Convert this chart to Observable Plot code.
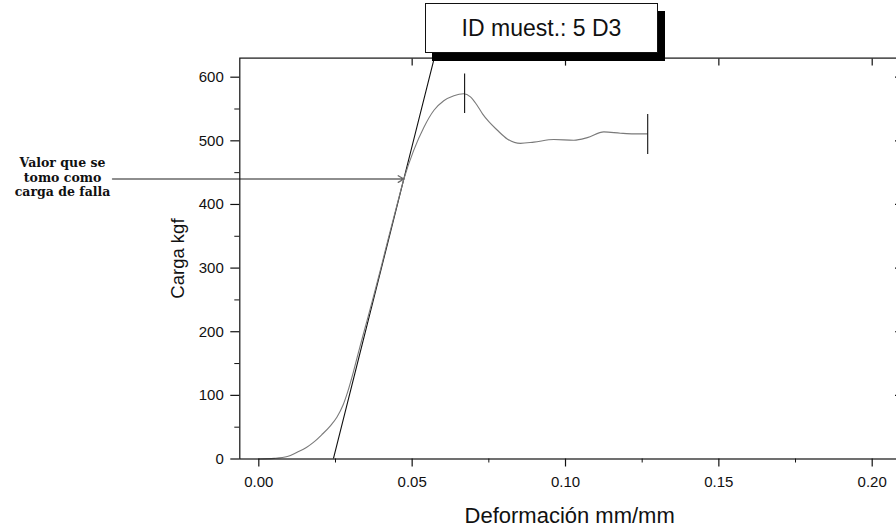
<!DOCTYPE html>
<html>
<head>
<meta charset="utf-8">
<script src="https://cdn.jsdelivr.net/npm/d3@7"></script>
<script src="https://cdn.jsdelivr.net/npm/@observablehq/plot@0.6"></script>
<style>
  html, body { margin: 0; padding: 0; background: #fff; overflow: hidden; }
  #wrap { position: relative; width: 896px; height: 527px; overflow: hidden; }
  #wrap svg { max-width: none !important; }
  #title {
    position: absolute; left: 425px; top: 3px; width: 231px; height: 48px;
    border: 1px solid #111; background: #fff; box-shadow: 7px 8px 0 #000;
    font-family: "Liberation Sans", Arial, sans-serif; font-size: 23px; color: #111;
    display: flex; align-items: center; justify-content: center; z-index: 2;
  }
</style>
</head>
<body>
<div id="wrap"><div id="title">ID muest.: 5 D3</div></div>
<script>
// Load–deformation curve
const strain = [0, 0.005, 0.0093, 0.0125, 0.0155, 0.0179, 0.0205, 0.0234, 0.0255, 0.0274, 0.0290, 0.0309, 0.0329, 0.0343, 0.0371, 0.0398, 0.0424, 0.0451, 0.0473, 0.0505, 0.0538, 0.0571, 0.0603, 0.0636, 0.0668, 0.0690, 0.0710, 0.0730, 0.0750, 0.0777, 0.0810, 0.0853, 0.0897, 0.0962, 0.1027, 0.1071, 0.1125, 0.1179, 0.1223, 0.1266];
const load   = [0, 1, 3.9, 10.7, 18, 26.4, 38, 52.6, 66, 84, 106, 138, 175, 200, 250, 300, 350, 400, 440, 485, 521, 548, 563, 571, 574, 569, 557, 542, 530, 517, 503, 496, 498, 502, 501, 505, 514, 512, 511, 511];

// Tangent (elastic) line
const tangentStrain = [0.0243, 0.0572];
const tangentLoad   = [0, 630];

// Vertical markers (peak and end of test)
const markerStrain = [0.0671, 0.1268];
const markerLow    = [543, 478.5];
const markerHigh   = [605, 541.5];

// Annotation
const annotationLines = ["Valor que se", "tomo como", "carga de falla"];
const failureLoad = 440;
const arrowFromStrain = -0.0477;
const arrowToStrain = 0.0473;
const annotationStrain = -0.064;

// Ticks
const xTicks = [0, 0.05, 0.10, 0.15, 0.20];
const xMinorTicks = [0.025, 0.075, 0.125, 0.175];
const yTicks = [0, 100, 200, 300, 400, 500, 600];
const yMinorTicks = [50, 150, 250, 350, 450, 550];

const xLabel = "Deformación mm/mm";
const yLabel = "Carga kgf";

const curve = strain.map((s, i) => ({s, l: load[i]}));
const tangent = tangentStrain.map((s, i) => ({s, l: tangentLoad[i]}));
const markers = markerStrain.map((s, i) => ({s, lo: markerLow[i], hi: markerHigh[i]}));

const font = "'Liberation Sans', Arial, sans-serif";

const chart = Plot.plot({
  width: 905,
  height: 527,
  marginLeft: 239.3,
  marginRight: 6,
  marginTop: 57.6,
  marginBottom: 68.5,
  style: {fontFamily: font, fontSize: "15px", color: "#111", background: "transparent", overflow: "visible", maxWidth: "none"},
  x: {domain: [-0.0062, 0.2089]},
  y: {domain: [0, 630]},
  marks: [
    Plot.line(tangent, {x: "s", y: "l", stroke: "#111", strokeWidth: 1.1, clip: true}),
    Plot.line(curve, {x: "s", y: "l", curve: "monotone-x", stroke: "#7a7a7a", strokeWidth: 1.1}),
    Plot.ruleX(markers, {x: "s", y1: "lo", y2: "hi", stroke: "#111", strokeWidth: 1.1}),
    Plot.arrow([{}], {x1: () => arrowFromStrain, x2: () => arrowToStrain, y1: () => failureLoad, y2: () => failureLoad,
      stroke: "#6a6a6a", strokeWidth: 1.4, headLength: 7}),
    Plot.text([annotationLines.join("\n")], {x: () => annotationStrain, y: () => failureLoad, text: d => d,
      dy: -2, lineHeight: 1.18, fontFamily: "'DejaVu Serif', serif", fontWeight: "bold", fontSize: 12.5, fill: "#111"}),
    Plot.frame({stroke: "#111", strokeWidth: 1.2}),
    Plot.axisY({ticks: yTicks, tickSize: 9, tickPadding: 7, fontSize: 15, label: null, stroke: "#111", strokeWidth: 1.2}),
    Plot.axisY({ticks: yMinorTicks, tickSize: 5, text: null, label: null, stroke: "#111"}),
    Plot.axisY({anchor: "right", ticks: yTicks.filter(d => d > 0), tickSize: 5, insetRight: 5, text: null, label: null, stroke: "#111", strokeWidth: 1.2}),
    Plot.axisX({ticks: xTicks, tickFormat: d3.format(".2f"), tickSize: 8, tickPadding: 9.5, fontSize: 15, label: null, stroke: "#111", strokeWidth: 1.2}),
    Plot.axisX({ticks: xMinorTicks, tickSize: 4, text: null, label: null, stroke: "#111"}),
    Plot.axisX({anchor: "top", ticks: xTicks.filter(d => d > 0), tickSize: 7, insetTop: 7, text: null, label: null, stroke: "#111", strokeWidth: 1.2}),
    Plot.text([xLabel], {frameAnchor: "bottom", text: d => d, dy: 56.5, lineAnchor: "middle", textAnchor: "middle", fontSize: 22, fill: "#111"}),
    Plot.text([yLabel], {frameAnchor: "left", text: d => d, dx: -61.3, rotate: -90, lineAnchor: "middle", textAnchor: "middle", fontSize: 18.5, fill: "#111"})
  ]
});
document.getElementById("wrap").appendChild(chart);
</script>
</body>
</html>
